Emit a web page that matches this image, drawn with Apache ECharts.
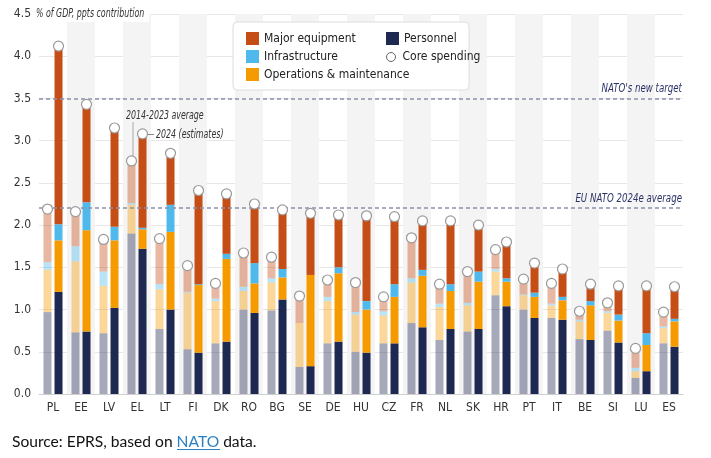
<!DOCTYPE html>
<html>
<head>
<meta charset="utf-8">
<script src="https://cdn.jsdelivr.net/npm/echarts@6/dist/echarts.min.js"></script>
<style>
  html, body { margin: 0; padding: 0; background: #fff; }
  #chart { width: 711px; height: 458px; }
</style>
</head>
<body>
<div id="chart"></div>
<script>
// categories
const countries = ['PL', 'EE', 'LV', 'EL', 'LT', 'FI', 'DK', 'RO', 'BG', 'SE', 'DE', 'HU', 'CZ', 'FR', 'NL', 'SK', 'HR', 'PT', 'IT', 'BE', 'SI', 'LU', 'ES']

// 2014-2023 average, ppts of GDP
const persAvg = [0.97, 0.73, 0.72, 1.90, 0.77, 0.53, 0.60, 1.00, 0.99, 0.32, 0.60, 0.50, 0.60, 0.84, 0.64, 0.74, 1.17, 1.00, 0.90, 0.65, 0.75, 0.19, 0.60]
const omAvg = [0.50, 0.84, 0.56, 0.34, 0.47, 0.67, 0.50, 0.22, 0.33, 0.52, 0.50, 0.44, 0.33, 0.48, 0.39, 0.31, 0.28, 0.17, 0.15, 0.21, 0.21, 0.08, 0.18]
const infraAvg = [0.09, 0.18, 0.17, 0.02, 0.06, 0.01, 0.03, 0.05, 0.05, 0.00, 0.05, 0.03, 0.05, 0.05, 0.04, 0.03, 0.03, 0.01, 0.02, 0.02, 0.02, 0.04, 0.02]
const equipAvg = [0.63, 0.41, 0.38, 0.50, 0.54, 0.31, 0.18, 0.40, 0.25, 0.32, 0.20, 0.35, 0.17, 0.48, 0.23, 0.37, 0.23, 0.18, 0.24, 0.10, 0.10, 0.23, 0.17]
const coreAvg = [2.19, 2.16, 1.83, 2.76, 1.84, 1.52, 1.31, 1.67, 1.62, 1.16, 1.35, 1.32, 1.15, 1.85, 1.30, 1.45, 1.71, 1.36, 1.31, 0.98, 1.08, 0.54, 0.97]

// 2024 estimates
const pers24 = [1.21, 0.74, 1.02, 1.72, 1.00, 0.49, 0.62, 0.96, 1.12, 0.33, 0.62, 0.49, 0.60, 0.79, 0.77, 0.77, 1.04, 0.90, 0.88, 0.64, 0.61, 0.27, 0.56]
const om24 = [0.61, 1.20, 0.80, 0.23, 0.92, 0.80, 0.98, 0.35, 0.26, 1.08, 0.81, 0.51, 0.55, 0.61, 0.45, 0.56, 0.29, 0.25, 0.23, 0.41, 0.26, 0.31, 0.30]
const infra24 = [0.19, 0.33, 0.16, 0.02, 0.32, 0.01, 0.06, 0.24, 0.10, 0.00, 0.07, 0.10, 0.15, 0.07, 0.08, 0.12, 0.04, 0.05, 0.04, 0.05, 0.07, 0.14, 0.03]
const equip24 = [2.11, 1.16, 1.17, 1.11, 0.61, 1.11, 0.71, 0.70, 0.70, 0.73, 0.62, 1.01, 0.80, 0.58, 0.75, 0.55, 0.43, 0.35, 0.33, 0.20, 0.34, 0.56, 0.38]
const core24 = [4.12, 3.43, 3.15, 3.08, 2.85, 2.41, 2.37, 2.25, 2.18, 2.14, 2.12, 2.11, 2.10, 2.05, 2.05, 2.00, 1.80, 1.55, 1.48, 1.30, 1.28, 1.28, 1.27]

const targetNew = 3.5
const euAverage = 2.2

const FONT = "'Liberation Sans Narrow', 'DejaVu Sans Condensed', 'Roboto', sans-serif"
const colors = {
  equip: '#c54e17',
  infra: '#50b9ec',
  om: '#f59b00',
  pers: '#1e2952'
}

function barSeries (name, stack, data, color, faded) {
  return {
    name: name,
    type: 'bar',
    stack: stack,
    barWidth: 8,
    barGap: '38%',
    data: data,
    itemStyle: { color: color, opacity: faded ? 0.4 : 1 },
    emphasis: { disabled: true }
  }
}

function coreSeries (name, data, offset) {
  return {
    name: name,
    type: 'scatter',
    data: data,
    symbol: 'circle',
    symbolSize: 10,
    symbolOffset: [offset, 0],
    z: 5,
    itemStyle: { color: '#fff', borderColor: '#9a9a9a', borderWidth: 1.2, opacity: 1 },
    emphasis: { disabled: true }
  }
}

const series = [
  barSeries('Personnel (avg)', 'avg', persAvg, colors.pers, true),
  barSeries('Operations & maintenance (avg)', 'avg', omAvg, colors.om, true),
  barSeries('Infrastructure (avg)', 'avg', infraAvg, colors.infra, true),
  barSeries('Major equipment (avg)', 'avg', equipAvg, colors.equip, true),
  barSeries('Personnel', 'y2024', pers24, colors.pers, false),
  barSeries('Operations & maintenance', 'y2024', om24, colors.om, false),
  barSeries('Infrastructure', 'y2024', infra24, colors.infra, false),
  barSeries('Major equipment', 'y2024', equip24, colors.equip, false),
  coreSeries('Core spending (avg)', coreAvg, -5.5),
  coreSeries('Core spending', core24, 5.5)
]

// reference lines (labels are added as graphic text below)
series[0].markLine = {
  silent: true,
  symbol: 'none',
  lineStyle: { color: '#8b90aa', type: [4, 3], width: 1.5 },
  label: { show: false },
  data: [{ yAxis: targetNew }, { yAxis: euAverage }]
}

const legendCommon = {
  orient: 'vertical',
  itemWidth: 13,
  itemHeight: 13,
  itemGap: 5,
  selectedMode: false,
  textStyle: { fontFamily: FONT, fontSize: 12, color: '#222' }
}

const option = {
  animation: false,
  textStyle: { fontFamily: FONT },
  legend: [
    Object.assign({}, legendCommon, {
      left: 241,
      top: 27,
      data: [
        { name: 'Major equipment', icon: 'rect' },
        { name: 'Infrastructure', icon: 'rect' },
        { name: 'Operations & maintenance', icon: 'rect' }
      ]
    }),
    Object.assign({}, legendCommon, {
      left: 381,
      top: 27,
      data: [{ name: 'Personnel', icon: 'rect' }]
    }),
    Object.assign({}, legendCommon, {
      left: 381,
      top: 46,
      itemHeight: 9,
      data: [{ name: 'Core spending', icon: 'circle', itemStyle: { color: '#fff', borderColor: '#666', borderWidth: 1 } }]
    })
  ],
  grid: { left: 39, right: 28, top: 14, bottom: 64 },
  xAxis: {
    type: 'category',
    data: countries,
    axisLine: { lineStyle: { color: '#cfcfcf' } },
    axisTick: { show: false },
    axisLabel: { fontFamily: FONT, fontSize: 12, color: '#333', margin: 8 },
    splitArea: { show: true, areaStyle: { color: ['rgba(255,255,255,0)', '#f4f4f4'] } }
  },
  yAxis: {
    type: 'value',
    min: 0,
    max: 4.5,
    interval: 0.5,
    axisLine: { show: false },
    axisTick: { show: false },
    axisLabel: {
      fontFamily: FONT,
      fontSize: 12,
      color: '#333',
      margin: 8,
      formatter: v => v.toFixed(1)
    },
    splitLine: { lineStyle: { color: '#e6e6e6' } }
  },
  series: series
}

const myChart = echarts.init(document.getElementById('chart'))
myChart.setOption(option)

// italic condensed text, squeezed horizontally
function italicText (text, x, y, size, squeeze, align, color) {
  return {
    type: 'text',
    z: 4,
    x: x,
    y: y,
    scaleX: squeeze,
    style: {
      text: text,
      font: 'italic ' + size + 'px ' + FONT,
      fill: color || '#333',
      align: align || 'left',
      verticalAlign: 'middle'
    }
  }
}

const rightEdge = myChart.convertToPixel({ xAxisIndex: 0 }, countries[countries.length - 1]) + 13
const yTarget = myChart.convertToPixel({ yAxisIndex: 0 }, targetNew)
const yAverage = myChart.convertToPixel({ yAxisIndex: 0 }, euAverage)

myChart.setOption({
  graphic: [
    // white patch behind the unit title
    { type: 'rect', z: 3, shape: { x: 33, y: 6, width: 116, height: 16 }, style: { fill: '#fff' } },
    italicText('% of GDP, ppts contribution', 36, 14, 12, 0.73),
    // legend box
    {
      type: 'rect',
      z: 3,
      shape: { x: 233, y: 22, width: 236, height: 68, r: 4 },
      style: { fill: '#fff', stroke: '#dcdcdc', lineWidth: 1 }
    },
    // reference line labels
    italicText("NATO's new target", rightEdge, yTarget - 10, 13, 0.74, 'right', '#2b3366'),
    italicText('EU NATO 2024e average', rightEdge, yAverage - 10, 13, 0.74, 'right', '#2b3366'),
    // annotation: 2014-2023 average
    { type: 'line', z: 3, shape: { x1: 133, y1: 122, x2: 133, y2: 157 }, style: { stroke: '#aaa', lineWidth: 1 } },
    italicText('2014-2023 average', 126, 116, 12, 0.73),
    // annotation: 2024 estimates
    { type: 'line', z: 3, shape: { x1: 147, y1: 134.5, x2: 154, y2: 134.5 }, style: { stroke: '#888', lineWidth: 1 } },
    italicText('2024 (estimates)', 156, 134.5, 12, 0.73),
    // source line
    {
      type: 'text',
      x: 12,
      y: 441.5,
      style: {
        text: '{a|Source: EPRS, based on }{b|NATO}{a| data.}',
        verticalAlign: 'middle',
        rich: {
          a: { fontFamily: 'Lato', fontSize: 15.6, fill: '#111' },
          b: { fontFamily: 'Lato', fontSize: 15.6, fill: '#2a7fc1' }
        }
      }
    },
    { type: 'line', shape: { x1: 177, y1: 449.5, x2: 220, y2: 449.5 }, style: { stroke: '#2a7fc1', lineWidth: 1 } }
  ]
})
</script>
</body>
</html>
